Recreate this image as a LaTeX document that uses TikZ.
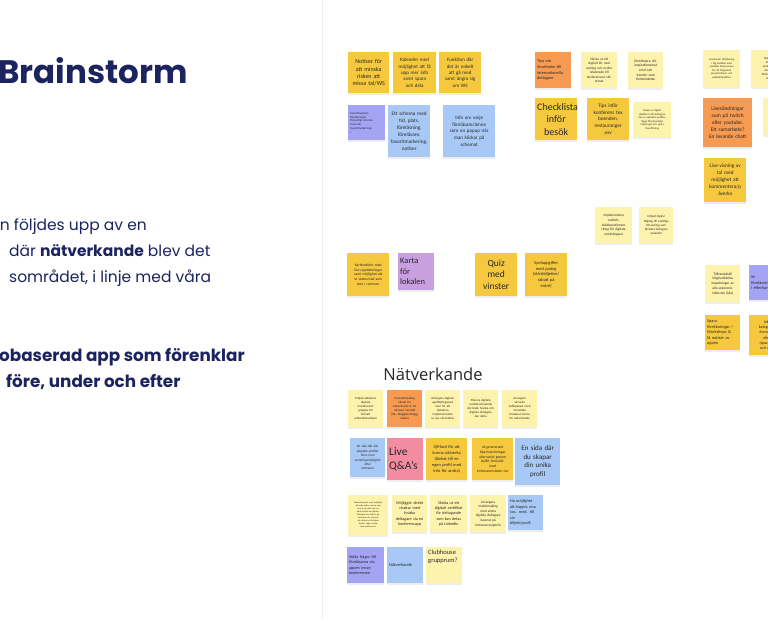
\documentclass[tikz,border=0pt]{standalone}
\usepackage{fontspec}
\setmainfont{Carlito}
\newfontfamily\brandfont{Poppins}
\newfontfamily\boardfont{Open Sans}
\usetikzlibrary{shadows}
\definecolor{ink}{RGB}{40,40,40}
\definecolor{navy}{RGB}{27,36,94}
\definecolor{stYel}{RGB}{246,200,62}
\definecolor{stPal}{RGB}{254,243,172}
\definecolor{stOrg}{RGB}{247,154,82}
\definecolor{stVio}{RGB}{164,164,245}
\definecolor{stBlu}{RGB}{168,200,245}
\definecolor{stLil}{RGB}{200,160,224}
\definecolor{stPnk}{RGB}{242,140,160}
\newcommand\notesize[2]{\fontsize{#1}{#2}\selectfont}

\begin{document}
\begin{tikzpicture}[x=1pt,y=-1pt,
  note/.style={anchor=north west,inner xsep=2pt,inner ysep=0pt,align=center,text=ink,
    drop shadow={shadow xshift=0pt,shadow yshift=-1.6pt,opacity=.14}},
  wh/.style 2 args={text width=#1pt,minimum height=#2pt},
  body/.style={anchor=base west,inner sep=0pt,text=navy,font=\brandfont\notesize{15.5}{19}},
  bodybold/.style={body,font=\brandfont\bfseries\notesize{16.8}{20}}]
\useasboundingbox (0,0) rectangle (768,619);
\clip (0,0) rectangle (768,619);
\fill[white] (0,0) rectangle (768,619);
\draw[black!6] (322,0) -- (322,619);

\node[anchor=base west,inner sep=0pt,text=navy,font=\brandfont\bfseries\notesize{32.5}{40}] (title) at (-2,83) {Brainstorm};
\node[body,anchor=base east] (l1) at (147,230) {n följdes upp av en};
\node[body] (l2) at (9,256) {där \textbf{nätverkande} blev det};
\node[body] (l3) at (9,282) {sområdet, i linje med våra};
\node[bodybold] (l4) at (-1,361) {obaserad app som förenklar};
\node[bodybold] (l5) at (6,387) {före, under och efter};

\node[note,fill=stYel,wh={37}{41},font=\notesize{6}{7.3}] (notiser) at (348,52) {Notiser för\\att minska\\risken att\\missa tal/WS};
\node[note,fill=stYel,wh={39}{41},font=\notesize{5}{6.3}] (kalender) at (393,52) {Kalender med\\möjlighet att få\\upp mer info\\samt spara\\och dela};
\node[note,fill=stYel,wh={38}{41},font=\notesize{5}{6.3}] (funktion) at (439,52) {Funktion där\\det är enkelt\\att gå med\\samt ångra sig\\om WS};
\node[note,fill=stVio,wh={33}{35},align=left,font=\notesize{3}{3.8}] (favorit) at (348,105) {Favoritmarkera\\föreläsningar\\Personligt schema\\med alla\\favoritmarkeringa\\r};
\node[note,fill=stBlu,wh={38}{52},font=\notesize{5.2}{7}] (schema) at (388,105) {Ett schema med\\tid, plats,\\föreläsning,\\föreläsare,\\favoritmarkering,\\notiser};
\node[note,fill=stBlu,wh={48}{52},font=\notesize{5}{6.6}] (popup) at (443,105) {Info om varje\\föreläsare/ämne\\som en popup när\\man klickar på\\schemat};

\node[note,fill=stOrg,wh={32}{36},align=left,font=\notesize{4.3}{5.6}] (stockholm) at (535,52) {Tips om\\Stockholm till\\internationella\\deltagare};
\node[note,fill=stPal,wh={32}{36},font=\notesize{3.4}{4.5}] (kit) at (581,52) {Skicka ut ett\\digitalt kit med\\verktyg och mailer\\relaterade till\\konferensens UX-\\temat};
\node[note,fill=stPal,wh={31}{36},font=\notesize{3.6}{4.7}] (inspo) at (628,52) {Distribuera UX-\\inspirationsmat\\erial och\\trender som\\förberedelse};
\node[note,fill=stYel,wh={38}{42},font=\notesize{10}{12.5}] (checklista) at (535,98) {Checklista\\inför\\besök};
\node[note,fill=stYel,wh={38}{42},font=\notesize{5.2}{6.8}] (boende) at (587,98) {Tips inför\\konferens tex\\boenden,\\restauranger\\osv};
\node[note,fill=stPal,wh={34}{35},font=\notesize{2.7}{3.6}] (plattform) at (633,102) {Skapa en digital\\plattform där deltagare\\kan se speakers profiler,\\lägga till personliga\\noteringar och spara\\favoritinslag};

\node[note,fill=stPal,wh={33}{37},font=\notesize{2.7}{3.6}] (stream) at (703,50) {Livestream föreläsning\\i big buddies med\\multiple tools/scenes\\för att förgrunda\\presentationer och\\publikinteraktion};
\node[note,fill=stPal,wh={33}{37},font=\notesize{3}{4}] (digital) at (751,50) {Skapa en\\digital\\mediebank\\med alla\\föreläsningar\\bank};
\node[note,fill=stOrg,wh={45}{49},font=\notesize{5.4}{7}] (twitch) at (703,98) {Livesändningar\\som på twitch\\eller youtube.\\Ett samarbete?\\En levande chatt};
\node[note,fill=stPal,wh={33}{37},font=\notesize{3}{4}] (extra) at (763,98) {Erbjud\\digitala\\möten\\efter\\talen};
\node[note,fill=stYel,wh={38}{44},font=\notesize{5.2}{7}] (visning) at (704,158) {Live-visning av\\tal med\\möjlighet att\\kommentera/p\\åverka};

\node[note,fill=stPal,wh={31}{37},font=\notesize{3.6}{4.8}] (inspelning) at (705,265) {Tillhandahåll\\högkvalitativa\\inspelningar av\\alla sessioner,\\inklusive Q\&A};
\node[note,fill=stVio,wh={32}{35},align=left,font=\notesize{4.3}{5.6}] (efterhand) at (749,265) {Se\\föreläsningar\\i efterhand};
\node[note,fill=stYel,wh={31}{35},align=left,font=\notesize{4.3}{5.6}] (spara) at (705,315) {Spara\\föreläsningar /\\Workshops \&\\få notiser av\\appen};
\node[note,fill=stYel,wh={32}{40},font=\notesize{4}{5.2}] (kategori) at (749,315) {Inkl.\\kategorier\\Kunna gå\\efter\\(sparade)\\och dela};

\node[note,fill=stYel,wh={38}{43},font=\notesize{3.7}{4.9}] (kartfunktion) at (347,253) {Kartfunktion med\\live-uppdateringar\\samt möjlighet att\\se status/vad som\\sker i rummen};
\node[note,fill=stLil,wh={32}{37},align=left,font=\notesize{8.5}{10.5}] (karta) at (398,253) {Karta\\för\\lokalen};
\node[note,fill=stYel,wh={38}{43},font=\notesize{9.5}{11.7}] (quiz) at (475,253) {Quiz\\med\\vinster};
\node[note,fill=stYel,wh={38}{43},font=\notesize{4.4}{5.8}] (spel) at (525,253) {Speluppgifter\\med poäng\\(drinkbiljetter/\\rabatt på\\entré)};
\node[note,fill=stPal,wh={33}{36},font=\notesize{3.5}{4.6}] (realtid) at (595,207) {Implementera\\realtids-\\kollaborationsve\\rktyg för digitala\\workshoppar};
\node[note,fill=stPal,wh={30}{36},font=\notesize{3.1}{4.2}] (verktyg) at (639,207) {Erbjud digital\\tillgång till samtliga\\UX-verktyg som\\flertalet deltagare\\använder};

\node[anchor=center,inner sep=0pt,text=black!85,font=\boardfont\notesize{16.5}{20}] (natverk) at (433,374) {Nätverkande};

\node[note,fill=stPal,wh={31}{37},font=\notesize{3.1}{4.1}] (mastermind) at (348,390) {Erbjud exklusiva\\digitala\\mastermind-\\grupper för\\fortsatt\\erfarenhetsutbyte};
\node[note,fill=stOrg,wh={31}{37},font=\notesize{3.1}{4.1}] (aimatch) at (387,390) {AI-matchmaking\\kände för\\nätverkande \& för\\relevant innehåll\\(ML, bloggare/inlägg,\\talare)};
\node[note,fill=stPal,wh={31}{37},font=\notesize{3.1}{4.1}] (uppfoljning) at (425,390) {Arrangera digitala\\uppföljningssessi\\oner för att\\diskutera\\implementation\\av nya UX-insikter};
\node[note,fill=stPal,wh={31}{37},font=\notesize{3.1}{4.1}] (rundabord) at (463,390) {Planera digitala\\rundabordssamtal\\där både fysiska och\\digitala deltagare\\kan delta};
\node[note,fill=stPal,wh={31}{37},font=\notesize{3.1}{4.1}] (kaffe) at (502,390) {Arrangera\\virtuella\\kaffepauser med\\tematiska\\breakout-rooms\\för nätverkande};

\node[note,fill=stBlu,wh={31}{39},font=\notesize{3.3}{4.4}] (profiler) at (350,438) {En sida där alla\\skapade profiler\\finns med\\sorteringsmöjlighet\\efter\\intressen};
\node[note,fill=stPnk,wh={32}{42},align=left,font=\notesize{11.5}{14}] (liveqa) at (387,438) {Live\\Q\&A's};
\node[note,fill=stYel,wh={37}{42},font=\notesize{4.4}{5.8}] (qrkod) at (426,438) {QR-kod för att\\kunna nätverka\\(länkat till en\\egen profil med\\info för andra)};
\node[note,fill=stYel,wh={37}{42},font=\notesize{3.7}{4.8}] (aitips) at (472,438) {AI-genererade\\tips/matchningar\\alternativt genom\\dylikt formulär\\med\\intresseområden osv};
\node[note,fill=stBlu,wh={41}{47},font=\notesize{7}{8.6}] (unik) at (515,438) {En sida där\\du skapar\\din unika\\profil};

\node[note,fill=stPal,wh={36}{40},font=\notesize{2.2}{3}] (zon) at (348,495) {Networking-zon med möjlighet\\att boka möten och se vem\\som är på plats just nu,\\både fysiskt och digitalt.\\Deltagare kan filtrera på\\intressen och yrkesroll\\och skicka en förfrågan\\direkt i appen under\\hela konferensen};
\node[note,fill=stPal,wh={31}{37},font=\notesize{4.1}{5.4}] (chatt) at (392,495) {Möjliggör direkt\\chattar med\\fysiska\\deltagare via en\\konferensapp};
\node[note,fill=stPal,wh={33}{37},font=\notesize{4.1}{5.4}] (certifikat) at (430,495) {Skicka ut ett\\digitalt certifikat\\för deltagande\\som kan delas\\på LinkedIn};
\node[note,fill=stPal,wh={32}{37},font=\notesize{3.5}{4.6}] (expertis) at (470,495) {Arrangera\\matchmaking\\med andra\\digitala deltagare\\baserat på\\intressen/expertis};
\node[note,fill=stBlu,wh={31}{35},align=left,font=\notesize{4.2}{5.5}] (socmed) at (508,495) {Ha möjlighet\\att koppla sina\\soc. med. till\\sin\\biljett/profil};

\node[note,fill=stVio,wh={33}{36},align=left,font=\notesize{4.2}{5.5}] (fragor) at (347,547) {Ställa frågor till\\föreläsarna via\\appen innan\\konferensen};
\node[note,fill=stBlu,wh={32}{36},align=left,font=\notesize{4.4}{5.6}] (natnote) at (387,547) {Nätverkande};
\node[note,fill=stPal,wh={32}{36},align=left,font=\notesize{6.5}{8}] (clubhouse) at (426,547) {Clubhouse\\grupprum?\\[10pt]\mbox{}};
\end{tikzpicture}
\end{document}
